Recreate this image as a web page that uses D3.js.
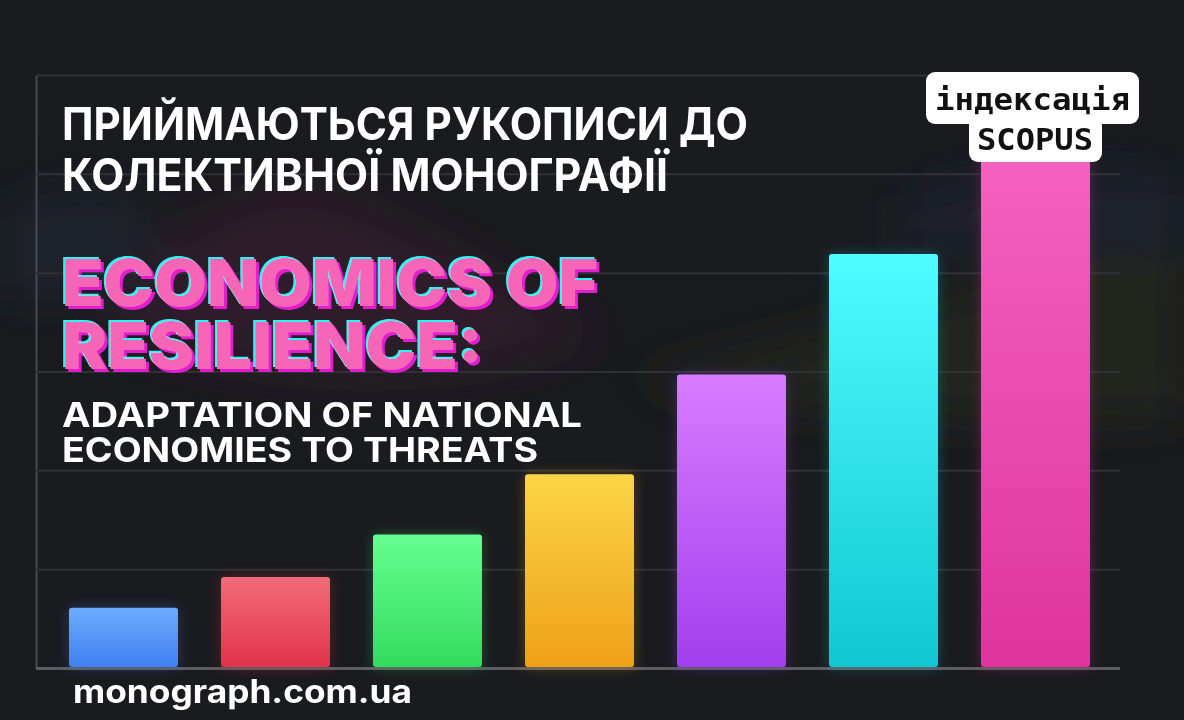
<!DOCTYPE html>
<html>
<head>
<meta charset="utf-8">
<script src="https://cdn.jsdelivr.net/npm/d3@7/dist/d3.min.js"></script>
<style>
  html, body { margin: 0; padding: 0; background: #1a1b1f; }
  svg { display: block; }
</style>
</head>
<body>
<svg id="canvas"></svg>
<script>
// bar data (units = grid steps)
let barKeys = ['b1', 'b2', 'b3', 'b4', 'b5', 'b6', 'b7']
let barValues = [0.61, 0.92, 1.35, 1.96, 2.97, 4.19, 5.24]
let colorsTop = ['#6cadff', '#f36b7a', '#64ff90', '#fbd547', '#d77dff', '#4dfdff', '#f562c0']
let colorsBottom = ['#3f7ff0', '#e0334b', '#33db5f', '#efa019', '#a23fee', '#12c7d1', '#de349c']
let gridTicks = [0, 1, 2, 3, 4, 5, 6]

let titleLines = ['ПРИЙМАЮТЬСЯ РУКОПИСИ ДО', 'КОЛЕКТИВНОЇ МОНОГРАФІЇ']
let headLines = ['ECONOMICS OF', 'RESILIENCE:']
let subLines = ['ADAPTATION OF NATIONAL', 'ECONOMIES TO THREATS']
let badgeLines = ['індексація', 'SCOPUS']
let siteText = 'monograph.com.ua'

let width = 1184
let height = 720
let plotLeft = 36
let plotRight = 1120
let plotTop = 75
let plotBottom = 668

let canvas = d3.select('#canvas')
canvas.attr('width', width).attr('height', height)

let defs = canvas.append('defs')

let glow = defs.append('filter').attr('id', 'glow')
    .attr('x', '-30%').attr('y', '-30%').attr('width', '160%').attr('height', '160%')
glow.append('feGaussianBlur').attr('stdDeviation', 7)

let haze = defs.append('filter').attr('id', 'haze')
    .attr('x', '-50%').attr('y', '-50%').attr('width', '200%').attr('height', '200%')
haze.append('feGaussianBlur').attr('stdDeviation', 25)

// cyan / magenta offset copies behind the pink headline
let chroma = defs.append('filter').attr('id', 'chroma')
    .attr('x', '-5%').attr('y', '-10%').attr('width', '110%').attr('height', '120%')
chroma.append('feFlood').attr('flood-color', '#2ff3f3').attr('result', 'cy')
chroma.append('feComposite').attr('in', 'cy').attr('in2', 'SourceAlpha').attr('operator', 'in').attr('result', 'cyA')
chroma.append('feOffset').attr('in', 'cyA').attr('dx', -2.5).attr('dy', -2.5).attr('result', 'cyO')
chroma.append('feFlood').attr('flood-color', '#e21ccf').attr('result', 'mg')
chroma.append('feComposite').attr('in', 'mg').attr('in2', 'SourceAlpha').attr('operator', 'in').attr('result', 'mgA')
chroma.append('feOffset').attr('in', 'mgA').attr('dx', 3).attr('dy', 3).attr('result', 'mgO')
let merge = chroma.append('feMerge')
merge.append('feMergeNode').attr('in', 'mgO')
merge.append('feMergeNode').attr('in', 'cyO')
merge.append('feMergeNode').attr('in', 'SourceGraphic')

barKeys.forEach((k, i) => {
    let g = defs.append('linearGradient').attr('id', 'grad-' + k)
        .attr('x1', 0).attr('y1', 0).attr('x2', 0).attr('y2', 1)
    g.append('stop').attr('offset', '0%').attr('stop-color', colorsTop[i])
    g.append('stop').attr('offset', '100%').attr('stop-color', colorsBottom[i])
})

// background
canvas.append('rect').attr('width', width).attr('height', height).attr('fill', '#1a1b1f')

// faint hills in the backdrop
let hills = canvas.append('g').attr('filter', 'url(#haze)')
hills.append('path')
    .attr('d', 'M100,330 C160,240 220,195 290,190 C360,185 440,250 600,330 C520,380 300,400 100,330 Z')
    .attr('fill', '#3a1c2e').attr('opacity', 0.65)
hills.append('path')
    .attr('d', 'M0,210 C40,190 90,180 150,200 L150,300 L0,300 Z')
    .attr('fill', '#222a3a').attr('opacity', 0.5)
hills.append('path')
    .attr('d', 'M620,380 C760,350 900,310 1050,260 C1110,245 1160,250 1184,260 L1184,420 C1000,430 800,420 620,380 Z')
    .attr('fill', '#272b1f').attr('opacity', 0.65)
hills.append('path')
    .attr('d', 'M900,200 C980,172 1070,168 1184,180 L1184,250 L900,250 Z')
    .attr('fill', '#222938').attr('opacity', 0.55)

let xScale = d3.scaleBand()
    .domain(barKeys)
    .range([47.5, 1111.5])
    .paddingInner(0.283)
    .paddingOuter(0.1415)

let yScale = d3.scaleLinear()
    .domain([0, 6])
    .range([plotBottom, plotTop])

// grid lines
let grid = d3.axisLeft(yScale)
    .tickValues(gridTicks)
    .tickSize(-(plotRight - plotLeft))
    .tickSizeOuter(0)
    .tickFormat('')

let gridG = canvas.append('g')
    .attr('id', 'grid')
    .attr('transform', `translate(${plotLeft}, 0)`)
    .call(grid)
gridG.select('.domain').attr('stroke', '#48494e').attr('stroke-width', 2)
gridG.selectAll('.tick line')
    .attr('stroke', (d) => d === 0 ? '#5c5d62' : '#303136')
    .attr('stroke-width', (d) => d === 0 ? 3 : 2)

// bars: glow underneath, then the bar
let bars = canvas.append('g').attr('id', 'bars')

bars.selectAll('rect.glow')
    .data(barValues)
    .enter()
    .append('rect')
    .attr('class', 'glow')
    .attr('x', (d, i) => xScale(barKeys[i]))
    .attr('y', (d) => yScale(d))
    .attr('width', xScale.bandwidth())
    .attr('height', (d) => yScale(0) - yScale(d))
    .attr('fill', (d, i) => colorsBottom[i])
    .attr('opacity', 0.3)
    .attr('filter', 'url(#glow)')

bars.selectAll('rect.bar')
    .data(barValues)
    .enter()
    .append('rect')
    .attr('class', 'bar')
    .attr('x', (d, i) => xScale(barKeys[i]))
    .attr('y', (d) => yScale(d))
    .attr('width', xScale.bandwidth())
    .attr('height', (d) => yScale(0) - yScale(d) - 1)
    .attr('rx', 3)
    .attr('fill', (d, i) => 'url(#grad-' + barKeys[i] + ')')

let sans = 'Inter, "Open Sans", "Noto Sans", sans-serif'

// one text block per heading, each line is a tspan
let textBlock = (lines, y0, lineGap, lengths, size, weight, fill) => {
    let t = canvas.append('text')
        .style('font-family', sans)
        .style('font-weight', weight)
        .style('font-size', size + 'px')
        .attr('fill', fill)
    t.selectAll('tspan')
        .data(lines)
        .enter()
        .append('tspan')
        .attr('x', 62)
        .attr('y', (d, i) => y0 + i * lineGap)
        .attr('textLength', (d, i) => lengths[i])
        .attr('lengthAdjust', 'spacingAndGlyphs')
        .text((d) => d)
    return t
}

textBlock(titleLines, 140, 51, [686, 606], 45, 700, '#ffffff')
textBlock(headLines, 306, 63, [536, 421], 64, 900, '#f765b7').attr('filter', 'url(#chroma)')
textBlock(subLines, 427, 35, [520, 476], 34, 700, '#ffffff')

// site address
canvas.append('text')
    .attr('x', 73)
    .attr('y', 703)
    .attr('textLength', 339)
    .attr('lengthAdjust', 'spacingAndGlyphs')
    .style('font-family', sans)
    .style('font-weight', 700)
    .style('font-size', '32px')
    .attr('fill', '#ffffff')
    .text(siteText)

// Scopus badge
let badge = canvas.append('g').attr('id', 'badge')
badge.append('rect')
    .attr('x', 926).attr('y', 72).attr('width', 213).attr('height', 52)
    .attr('rx', 9).attr('fill', '#ffffff')
badge.append('rect')
    .attr('x', 969).attr('y', 116).attr('width', 133).attr('height', 46)
    .attr('rx', 9).attr('fill', '#ffffff')

let badgeText = badge.append('text')
    .style('font-family', '"DejaVu Sans Mono", "Liberation Mono", monospace')
    .style('font-weight', 700)
    .style('font-size', '31px')
    .attr('fill', '#111111')
badgeText.selectAll('tspan')
    .data(badgeLines)
    .enter()
    .append('tspan')
    .attr('x', (d, i) => [935, 977][i])
    .attr('y', (d, i) => [110, 150][i])
    .attr('textLength', (d, i) => [195, 116][i])
    .attr('lengthAdjust', 'spacingAndGlyphs')
    .text((d) => d)
</script>
</body>
</html>
